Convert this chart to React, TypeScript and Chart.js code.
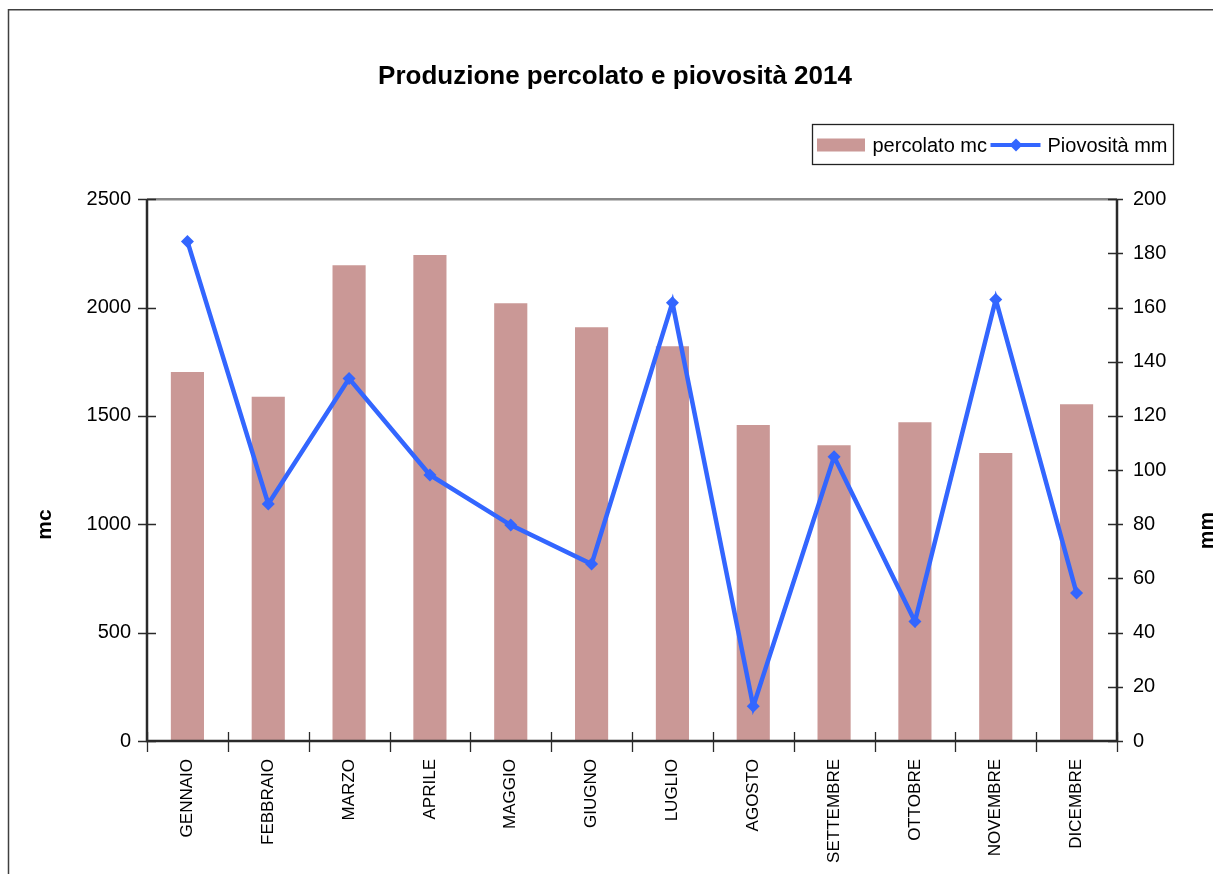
import { useEffect, useRef } from 'react';
import { Chart, registerables } from 'chart.js';

Chart.register(...registerables);

const TITLE = 'Produzione percolato e piovosità 2014';
const MONTHS = ['GENNAIO', 'FEBBRAIO', 'MARZO', 'APRILE', 'MAGGIO', 'GIUGNO', 'LUGLIO', 'AGOSTO', 'SETTEMBRE', 'OTTOBRE', 'NOVEMBRE', 'DICEMBRE'];
const PERCOLATO_MC = [1703, 1588, 2195, 2242, 2020, 1909, 1822, 1458, 1365, 1471, 1329, 1554];
const PIOVOSITA_MM = [184.4, 87.5, 133.8, 98.2, 79.7, 65.3, 161.8, 12.8, 104.9, 44.1, 163, 54.6];
const MC_TICKS = [0, 500, 1000, 1500, 2000, 2500];
const MM_TICKS = [0, 20, 40, 60, 80, 100, 120, 140, 160, 180, 200];
const SERIES_LABELS = ['percolato mc', 'Piovosità mm'];
const AXIS_TITLES = ['mc', 'mm'];

const FONT = "'Liberation Sans', Arial, Helvetica, sans-serif";
const BAR_COLOR = '#CA9896';
const LINE_COLOR = '#3366FF';
const AXIS_COLOR = '#2a2a2a';

const decorPlugin = {
  id: 'decor',
  beforeDraw(chart: any) {
    const { ctx, width, height } = chart;
    ctx.save();
    ctx.fillStyle = '#ffffff';
    ctx.fillRect(0, 0, width, height);
    ctx.strokeStyle = '#404040';
    ctx.lineWidth = 1.5;
    ctx.strokeRect(8.5, 9.75, width + 20, height + 20);
    ctx.restore();
  },
  afterDraw(chart: any) {
    const { ctx, chartArea } = chart;
    const { left, right, top, bottom } = chartArea;
    const yL = chart.scales.y;
    const yR = chart.scales.y1;
    const x = chart.scales.x;
    ctx.save();
    // plot area top border
    ctx.strokeStyle = '#888888';
    ctx.lineWidth = 2.5;
    ctx.beginPath();
    ctx.moveTo(left, top);
    ctx.lineTo(right, top);
    ctx.stroke();
    // axis lines
    ctx.strokeStyle = AXIS_COLOR;
    ctx.lineWidth = 2.5;
    ctx.beginPath();
    ctx.moveTo(left, top);
    ctx.lineTo(left, bottom);
    ctx.lineTo(right, bottom);
    ctx.moveTo(right, top);
    ctx.lineTo(right, bottom);
    ctx.stroke();
    // tick marks crossing the axes
    ctx.lineWidth = 1.3;
    ctx.beginPath();
    MC_TICKS.forEach((v) => {
      const py = Math.round(yL.getPixelForValue(v)) + 0.5;
      ctx.moveTo(left - 9, py);
      ctx.lineTo(left + 9, py);
    });
    MM_TICKS.forEach((v) => {
      const py = Math.round(yR.getPixelForValue(v)) + 0.5;
      ctx.moveTo(right - 9, py);
      ctx.lineTo(right + 6, py);
    });
    const n = MONTHS.length;
    for (let i = 0; i <= n; i++) {
      const px = Math.round(x.left + (i * x.width) / n) + 0.5;
      ctx.moveTo(px, bottom - 9);
      ctx.lineTo(px, bottom + 11);
    }
    ctx.stroke();

    // axis titles
    ctx.fillStyle = '#000';
    ctx.font = `bold 21px ${FONT}`;
    ctx.textAlign = 'center';
    ctx.textBaseline = 'middle';
    const midY = (top + chart.height - 10) / 2;
    ctx.save();
    ctx.translate(45, midY - 7);
    ctx.rotate(-Math.PI / 2);
    ctx.fillText(AXIS_TITLES[0], 0, 0);
    ctx.restore();
    ctx.save();
    ctx.translate(1207, midY - 1);
    ctx.rotate(-Math.PI / 2);
    ctx.fillText(AXIS_TITLES[1], 0, 0);
    ctx.restore();

    // legend
    const lx = 812.5, ly = 124.5, lw = 361, lh = 40;
    ctx.strokeStyle = '#222';
    ctx.lineWidth = 1.3;
    ctx.strokeRect(lx, ly, lw, lh);
    const cy = ly + lh / 2 + 0.5;
    ctx.fillStyle = chart.data.datasets[0].backgroundColor;
    ctx.fillRect(lx + 4.5, cy - 6.5, 48, 13);
    ctx.fillStyle = '#000';
    ctx.font = `20px ${FONT}`;
    ctx.textAlign = 'left';
    ctx.fillText(chart.data.datasets[0].label, lx + 60, cy + 1);
    ctx.strokeStyle = chart.data.datasets[1].borderColor;
    ctx.lineWidth = 4;
    ctx.beginPath();
    ctx.moveTo(lx + 178, cy);
    ctx.lineTo(lx + 228, cy);
    ctx.stroke();
    ctx.fillStyle = chart.data.datasets[1].borderColor;
    ctx.beginPath();
    const dx = lx + 203.5;
    ctx.moveTo(dx, cy - 6.5);
    ctx.lineTo(dx + 6.5, cy);
    ctx.lineTo(dx, cy + 6.5);
    ctx.lineTo(dx - 6.5, cy);
    ctx.closePath();
    ctx.fill();
    ctx.fillStyle = '#000';
    ctx.fillText(chart.data.datasets[1].label, lx + 235, cy + 1);
    ctx.restore();
  },
};

export default function App() {
  const canvasRef = useRef<HTMLCanvasElement | null>(null);

  useEffect(() => {
    const canvas = canvasRef.current;
    if (!canvas) return;
    const chart = new Chart(canvas, {
      type: 'bar',
      data: {
        labels: MONTHS,
        datasets: [
          {
            type: 'bar',
            label: SERIES_LABELS[0],
            data: PERCOLATO_MC,
            backgroundColor: BAR_COLOR,
            borderWidth: 0,
            yAxisID: 'y',
            order: 1,
            categoryPercentage: 1,
            barPercentage: 0.41,
          },
          {
            type: 'line',
            label: SERIES_LABELS[1],
            data: PIOVOSITA_MM,
            borderColor: LINE_COLOR,
            backgroundColor: LINE_COLOR,
            borderWidth: 4.5,
            pointStyle: 'rectRot',
            pointRadius: 6.5,
            pointBorderWidth: 0,
            pointBackgroundColor: LINE_COLOR,
            tension: 0,
            yAxisID: 'y1',
            order: 0,
          },
        ],
      },
      options: {
        responsive: false,
        animation: false,
        devicePixelRatio: 1,
        layout: { padding: 0 },
        plugins: {
          legend: { display: false },
          tooltip: { enabled: false },
          title: {
            display: true,
            text: TITLE,
            color: '#000',
            font: { family: FONT, size: 26, weight: 'bold', lineHeight: 1.2 },
            padding: { top: 61, bottom: 107 },
          },
        },
        scales: {
          x: {
            offset: true,
            grid: { display: false, drawTicks: false },
            border: { display: false },
            ticks: {
              color: '#000',
              font: { family: FONT, size: 17 },
              minRotation: 90,
              maxRotation: 90,
              autoSkip: false,
              padding: 18,
            },
            afterFit: (s: any) => { s.height = 133; },
          },
          y: {
            position: 'left',
            min: MC_TICKS[0],
            max: MC_TICKS[MC_TICKS.length - 1],
            grid: { display: false, drawTicks: false },
            border: { display: false },
            ticks: {
              stepSize: MC_TICKS[1] - MC_TICKS[0],
              color: '#000',
              font: { family: FONT, size: 20 },
              padding: 16,
              callback: (v: any) => String(v),
            },
            afterFit: (s: any) => { s.width = 147; },
          },
          y1: {
            position: 'right',
            min: MM_TICKS[0],
            max: MM_TICKS[MM_TICKS.length - 1],
            grid: { display: false, drawTicks: false },
            border: { display: false },
            ticks: {
              stepSize: MM_TICKS[1] - MM_TICKS[0],
              color: '#000',
              font: { family: FONT, size: 20 },
              padding: 16,
              callback: (v: any) => String(v),
            },
            afterFit: (s: any) => { s.width = 113; },
          },
        },
      },
      plugins: [decorPlugin],
    });
    return () => chart.destroy();
  }, []);

  return (
    <div style={{ position: 'fixed', left: 0, top: 0, width: 1213, height: 874, overflow: 'hidden', background: '#fff' }}>
      <canvas ref={canvasRef} width={1230} height={874} style={{ display: 'block' }} />
    </div>
  );
}
